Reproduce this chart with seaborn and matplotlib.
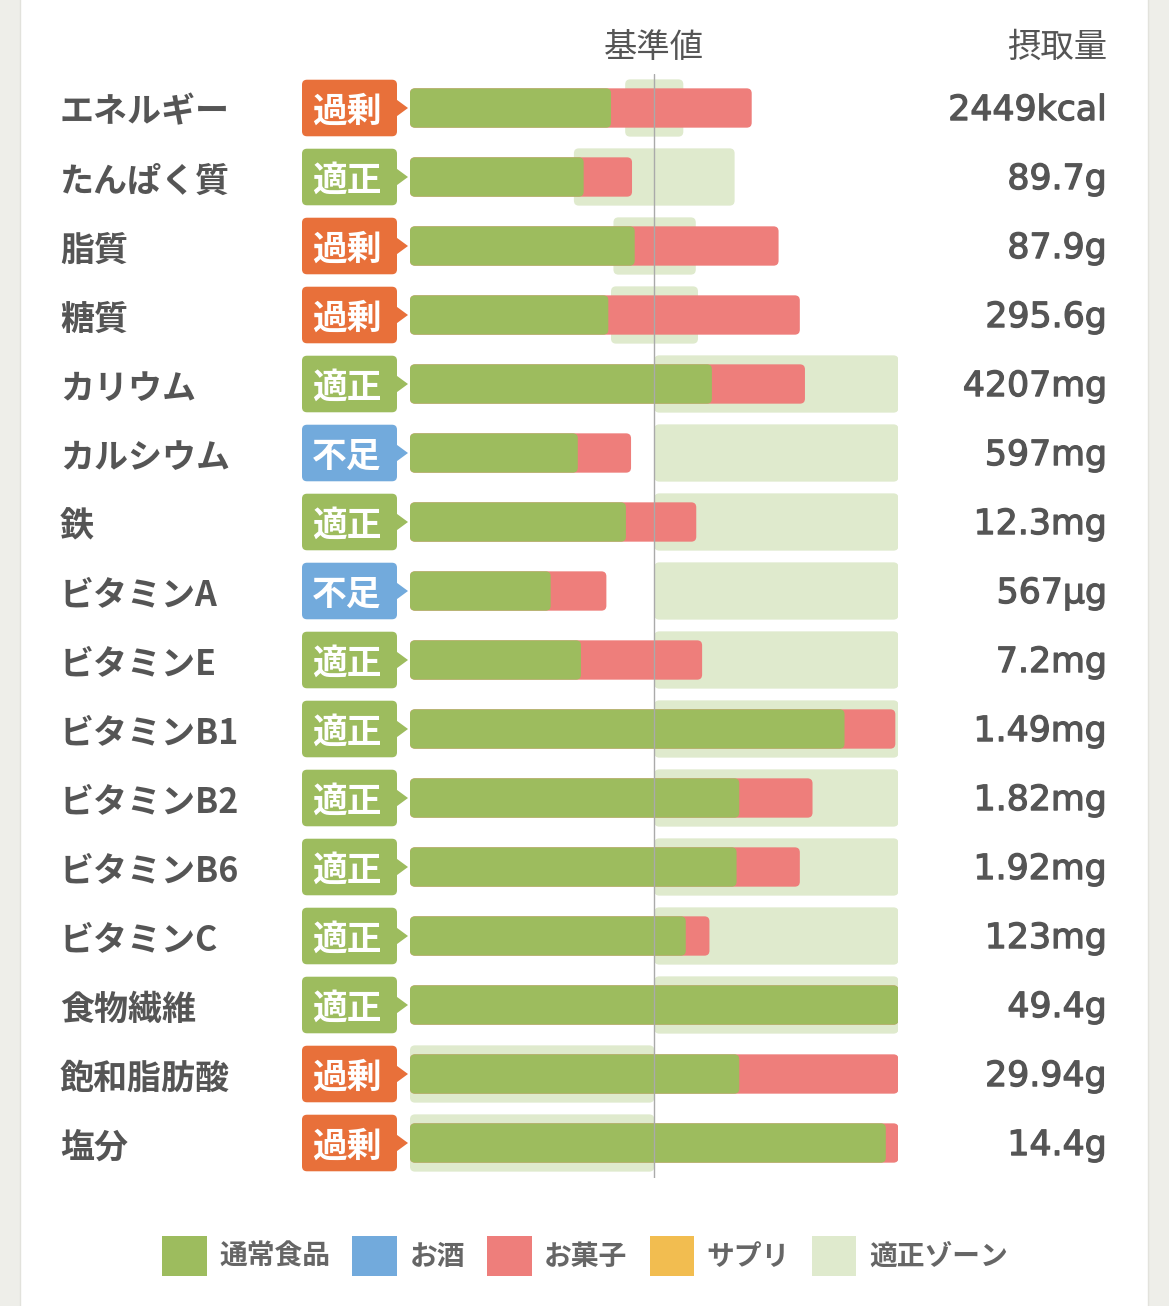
import numpy as np
import pandas as pd
import matplotlib
matplotlib.use("Agg")
import matplotlib.pyplot as plt
import matplotlib.patheffects as pe
import seaborn as sns
from matplotlib.patches import FancyBboxPatch, Polygon, Patch, Rectangle
from matplotlib.transforms import blended_transform_factory

# ---------------- data ----------------
nutrients = ["エネルギー", "たんぱく質", "脂質", "糖質", "カリウム", "カルシウム", "鉄",
             "ビタミンA", "ビタミンE", "ビタミンB1", "ビタミンB2", "ビタミンB6", "ビタミンC",
             "食物繊維", "飽和脂肪酸", "塩分"]
status = ["過剰", "適正", "過剰", "過剰", "適正", "不足", "適正", "不足", "適正", "適正",
          "適正", "適正", "適正", "適正", "過剰", "過剰"]
# percent of reference value (display capped at 200%)
food_pct = [82.3, 71.1, 92.0, 81.2, 123.6, 68.7, 88.4, 57.6, 70.0, 177.9, 134.8, 133.7,
            112.9, 200.0, 134.8, 194.8]
snack_pct = [57.6, 19.8, 58.9, 78.4, 38.1, 21.8, 28.8, 22.8, 49.6, 20.8, 30.0, 25.9,
             9.7, 0.0, 65.2, 5.2]
zone_lo = [88.1, 67.1, 83.3, 82.3, 100, 100, 100, 100, 100, 100, 100, 100, 100, 100, 0, 0]
zone_hi = [111.9, 132.9, 117.0, 117.9, 200, 200, 200, 200, 200, 200, 200, 200, 200, 200,
           100, 100]
intake = ["2449kcal", "89.7g", "87.9g", "295.6g", "4207mg", "597mg", "12.3mg", "567µg",
          "7.2mg", "1.49mg", "1.82mg", "1.92mg", "123mg", "49.4g", "29.94g", "14.4g"]
legend_labels = ["通常食品", "お酒", "お菓子", "サプリ", "適正ゾーン"]

# ---------------- style ----------------
GREEN = "#9DBC5E"
RED = "#EE7E7B"
ZONE = "#DFEACD"
BLUE = "#72AADC"
YELLOW = "#F2BD50"
ORANGE = "#E8703A"
TXT = "#555555"
badge_colors = {"過剰": ORANGE, "適正": GREEN, "不足": BLUE}

sns.set_theme(style="white")
plt.rcParams["font.family"] = ["Noto Sans CJK JP", "DejaVu Sans"]

W, H = 1169, 1306
fig = plt.figure(figsize=(W / 100, H / 100), dpi=100, facecolor="#EEEEE9")
card = Rectangle((20 / W, -0.01), (1148 - 20) / W, 1.02, transform=fig.transFigure,
                 facecolor="white", edgecolor="#E2E2DC", lw=1)
card.set_zorder(-10)
fig.patches.append(card)

ax_left, ax_right = 410, 898.5
ax_top, ax_bot = 73.5, 1177.5
ax = fig.add_axes([ax_left / W, 1 - ax_bot / H, (ax_right - ax_left) / W, (ax_bot - ax_top) / H])
ax.set_facecolor("none")
ax.set_zorder(1)

df = pd.DataFrame({"nutrient": nutrients, "food": food_pct, "snack": snack_pct})
df["total"] = df["food"] + df["snack"]

sns.barplot(data=df, y="nutrient", x="total", color=RED, orient="h", width=0.57,
            saturation=1, ax=ax, zorder=2)
sns.barplot(data=df, y="nutrient", x="food", color=GREEN, orient="h", width=0.57,
            saturation=1, ax=ax, zorder=2)
pos = np.arange(len(nutrients))
ax.barh(pos, np.array(zone_hi) - np.array(zone_lo), left=zone_lo, height=0.83,
        color=ZONE, zorder=1)

ax.set_xlim(0, 200)
ax.set_ylim(len(nutrients) - 0.5, -0.5)
ax.axis("off")

# rounded corners for bars
x_per_px = 200 / (ax_right - ax_left)
y_per_px = len(nutrients) / (ax_bot - ax_top)
aspect = y_per_px / x_per_px
rad = 5 * x_per_px
for p in list(ax.patches):
    if isinstance(p, Rectangle) and p.get_width() > 0:
        x0, y0 = p.get_x(), p.get_y()
        w, h = p.get_width(), p.get_height()
        r = min(rad, w / 2)
        fb = FancyBboxPatch((x0, y0), w, h, boxstyle=f"round,pad=0,rounding_size={r}",
                            mutation_aspect=aspect, facecolor=p.get_facecolor(),
                            edgecolor="none", zorder=p.get_zorder())
        p.remove()
        ax.add_patch(fb)
    elif isinstance(p, Rectangle):
        p.remove()

ax.axvline(100, color="#AAAAAA", lw=1.0, zorder=4)

# badges
b_l, b_r, b_tip = (302 - ax_left) * x_per_px, (397 - ax_left) * x_per_px, (408 - ax_left) * x_per_px
for i, s in enumerate(status):
    c = badge_colors[s]
    ax.add_patch(FancyBboxPatch((b_l, i - 0.41), b_r - b_l, 0.82,
                                boxstyle=f"round,pad=0,rounding_size={rad}",
                                mutation_aspect=aspect, facecolor=c, edgecolor="none",
                                clip_on=False, zorder=3))
    ax.add_patch(Polygon([[b_r - 0.5, i - 0.13], [b_tip, i], [b_r - 0.5, i + 0.13]],
                         closed=True, facecolor=c, edgecolor="none", clip_on=False, zorder=3))
    ax.text((b_l + b_r) / 2 - 1, i + 0.05, s, ha="center", va="center", color="white",
            fontsize=25, fontweight="bold", zorder=5)

# labels and values
thick = [pe.withStroke(linewidth=0.9, foreground=TXT)]
tr = blended_transform_factory(fig.transFigure, ax.transData)
for i, (n, v) in enumerate(zip(nutrients, intake)):
    ax.text(60 / W, i + 0.06, n, transform=tr, ha="left", va="center", fontsize=24.5,
            fontweight="bold", color=TXT)
    ax.text(1107 / W, i + 0.03, v, transform=tr, ha="right", va="center", fontsize=25,
            family=["DejaVu Sans"], color=TXT, path_effects=thick)

# headers
trh = blended_transform_factory(ax.transData, fig.transFigure)
ax.text(100, 1 - 47 / H, "基準値", transform=trh, ha="center", va="center",
        fontsize=24, color=TXT)
fig.text(1107 / W, 1 - 47 / H, "摂取量", ha="right", va="center", fontsize=24, color=TXT)

# legend
handles = [Patch(facecolor=c, edgecolor="none") for c in [GREEN, BLUE, RED, YELLOW, ZONE]]
leg = fig.legend(handles, legend_labels, loc="center", bbox_to_anchor=(585 / W, 1 - 1256 / H),
                 ncol=5, frameon=False, handlelength=1.6, handleheight=1.85,
                 handletextpad=0.45, columnspacing=0.8, labelcolor="#666666",
                 prop={"weight": "bold", "size": 20})

fig.savefig("out.png", dpi=100, facecolor=fig.get_facecolor())
